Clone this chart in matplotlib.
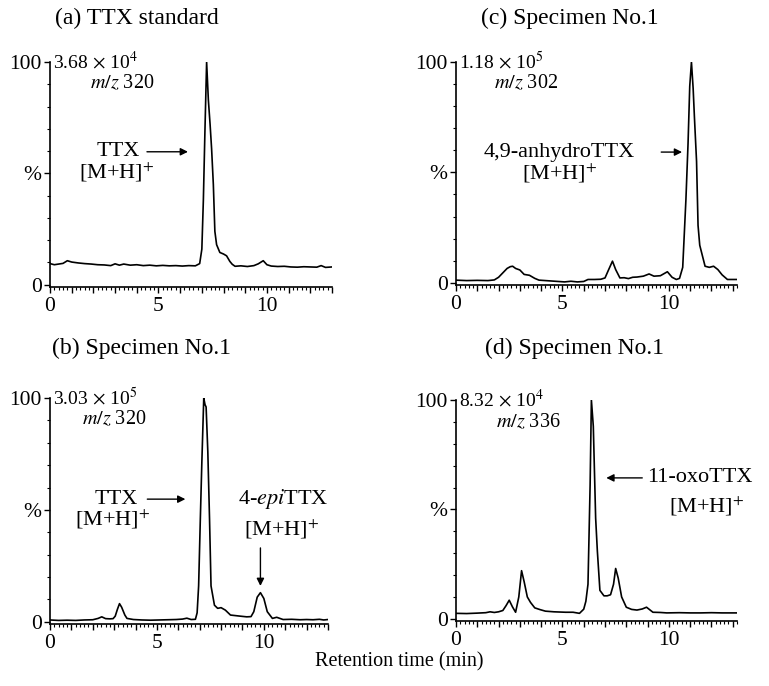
import matplotlib
matplotlib.use('Agg')
import matplotlib.pyplot as plt
from matplotlib.ticker import MultipleLocator, FixedLocator, FuncFormatter

plt.rcParams['font.family'] = ['Liberation Serif', 'DejaVu Serif']
plt.rcParams['mathtext.fontset'] = 'stix'

# (a) TTX standard, m/z 320
A_T = [0, 0.2, 0.4, 0.6, 0.8, 1.0, 1.3, 1.6, 1.9, 2.2,
       2.5, 2.8, 3.0, 3.2, 3.4, 3.7, 4.0, 4.3, 4.6, 4.9,
       5.2, 5.5, 5.8, 6.1, 6.4, 6.7, 6.9, 7.0, 7.07, 7.14,
       7.22, 7.30, 7.38, 7.45, 7.53, 7.60, 7.68, 7.83, 8.0, 8.14,
       8.29, 8.4, 8.53, 8.8, 9.1, 9.4, 9.6, 9.83, 10.0, 10.2,
       10.5, 10.8, 11.1, 11.4, 11.7, 12.0, 12.3, 12.5, 12.7, 13.0]
A_Y = [9.5, 9.0, 9.3, 9.6, 10.8, 10.2, 9.8, 9.5, 9.3, 9.0,
       8.9, 8.6, 9.4, 8.8, 9.3, 8.8, 9.0, 8.6, 8.8, 8.5,
       8.7, 8.5, 8.6, 8.4, 8.6, 8.5, 9.5, 16, 38, 68,
       100, 83, 72, 61, 45, 24, 18, 14.5, 13.8, 13,
       10.5, 9.2, 8.3, 8.5, 8.2, 8.6, 9.4, 10.8, 9.0, 8.4,
       8.2, 8.3, 8.0, 7.9, 8.1, 8.0, 7.9, 8.6, 7.8, 8.0]

# (b) specimen, m/z 320
B_T = [0, 0.4, 0.8, 1.2, 1.6, 2.0, 2.25, 2.42, 2.6, 2.8,
       2.95, 3.05, 3.15, 3.25, 3.35, 3.5, 3.6, 3.9, 4.3, 4.7,
       5.1, 5.5, 5.9, 6.2, 6.4, 6.6, 6.8, 6.88, 6.95, 7.03,
       7.1, 7.19, 7.25, 7.3, 7.38, 7.46, 7.53, 7.69, 7.84, 8.0,
       8.2, 8.44, 8.9, 9.2, 9.4, 9.53, 9.69, 9.84, 10.0, 10.16,
       10.4, 10.6, 10.9, 11.3, 11.7, 12.0, 12.3, 12.6, 12.8, 13.0]
B_Y = [0.8, 0.6, 0.7, 0.6, 0.8, 0.9, 1.5, 2.2, 1.4, 1.3,
       1.4, 2.5, 5.5, 8.1, 6.5, 3.0, 1.5, 1.0, 0.8, 0.7,
       0.8, 0.9, 1.0, 1.2, 1.6, 1.0, 1.1, 4.0, 16, 46,
       71, 100, 97, 96, 76, 46, 16, 7.4, 6.0, 6.3,
       5.2, 3.0, 2.5, 2.2, 2.3, 4.5, 11, 13, 10.4, 4.5,
       1.5, 2.0, 1.0, 1.1, 0.9, 1.0, 0.9, 1.1, 0.8, 1.0]

# (c) specimen, m/z 302
C_T = [0, 0.5, 1.0, 1.5, 1.8, 2.0, 2.2, 2.4, 2.55, 2.66,
       2.8, 3.0, 3.2, 3.45, 3.7, 3.9, 4.2, 4.5, 4.8, 5.1,
       5.4, 5.7, 6.0, 6.2, 6.5, 6.8, 7.0, 7.15, 7.35, 7.5,
       7.7, 7.9, 8.1, 8.3, 8.5, 8.8, 9.07, 9.3, 9.6, 9.93,
       10.15, 10.35, 10.5, 10.65, 10.8, 10.9, 10.98, 11.06, 11.14, 11.2,
       11.3, 11.37, 11.45, 11.7, 11.9, 12.1, 12.3, 12.5, 12.75, 13.2]
C_Y = [1.2, 1.0, 1.1, 1.0, 1.3, 2.5, 4.5, 6.5, 7.3, 7.5,
       6.5, 5.8, 3.8, 3.4, 2.0, 1.2, 1.0, 0.8, 0.6, 0.4,
       0.7, 0.4, 0.6, 1.5, 1.5, 1.6, 2.2, 5.5, 9.8, 6.0,
       2.2, 2.3, 1.9, 2.5, 2.6, 3.0, 4.0, 3.0, 3.2, 5.0,
       2.5, 1.5, 2.0, 7.0, 37.6, 63, 89, 100, 88, 75,
       55, 26, 17, 7.5, 7.0, 7.5, 6.0, 3.6, 1.5, 1.5]

# (d) specimen, m/z 336
D_T = [0, 0.5, 1.0, 1.4, 1.6, 1.8, 2.0, 2.2, 2.35, 2.5,
       2.65, 2.8, 2.95, 3.08, 3.2, 3.35, 3.5, 3.7, 3.95, 4.2,
       4.6, 5.15, 5.5, 5.8, 6.0, 6.1, 6.2, 6.3, 6.36, 6.45,
       6.56, 6.64, 6.76, 6.95, 7.1, 7.26, 7.4, 7.5, 7.62, 7.78,
       8.0, 8.25, 8.5, 8.75, 8.95, 9.25, 9.6, 9.9, 10.5, 11.0,
       11.5, 12.0, 12.5, 13.2]
D_Y = [2.5, 2.4, 2.6, 2.8, 3.2, 2.9, 3.2, 3.8, 6.0, 8.5,
       5.5, 3.0, 10, 22, 17, 10, 7.5, 5.0, 4.2, 3.5,
       3.2, 3.0, 3.0, 2.5, 4.4, 8, 15.8, 61, 100, 88,
       46, 31, 13, 10.5, 10.5, 11, 15.8, 23, 18.6, 10,
       5.3, 4.3, 4.0, 4.5, 5.3, 3.0, 2.9, 2.7, 2.8, 2.7,
       2.7, 2.8, 2.7, 2.7]

TITLES = ['(a) TTX standard', '(b) Specimen No.1',
          '(c) Specimen No.1', '(d) Specimen No.1']
SCALES = [r'3.68 $\times$ 10$^{4}$', r'3.03 $\times$ 10$^{5}$',
          r'1.18 $\times$ 10$^{5}$', r'8.32 $\times$ 10$^{4}$']
MZ = [r'$m/z$ 320', r'$m/z$ 320', r'$m/z$ 302', r'$m/z$ 336']
XMAX = [13.0, 13.0, 13.2, 13.2]

W, H = 769, 686
fig = plt.figure(figsize=(W / 100, H / 100), dpi=100)


def px_axes(left, top, right, bottom):
    return fig.add_axes([left / W, 1 - bottom / H,
                         (right - left) / W, (bottom - top) / H])


def style(ax, xmax):
    ax.set_xlim(0, xmax)
    ax.set_ylim(-1, 100)
    for s in ['top', 'right']:
        ax.spines[s].set_visible(False)
    for s in ['left', 'bottom']:
        ax.spines[s].set_linewidth(1.2)
    ax.xaxis.set_major_locator(MultipleLocator(1))
    ax.xaxis.set_minor_locator(MultipleLocator(0.2))
    ax.xaxis.set_major_formatter(
        FuncFormatter(lambda v, p: '%d' % v if int(round(v)) % 5 == 0 else ''))
    ax.yaxis.set_major_locator(FixedLocator([0, 50, 100]))
    ax.yaxis.set_minor_locator(MultipleLocator(10))
    ax.set_yticklabels(['0', '%', '100'])
    ax.tick_params(which='major', direction='out', length=4, width=1,
                   labelsize=15.5, pad=2)
    ax.tick_params(which='minor', direction='out', length=2.5, width=0.8)
    ax.tick_params(axis='x', which='major', pad=3)


def arrow(ax, x0, y0, x1, y1):
    ax.annotate('', xy=(x1, y1), xytext=(x0, y0),
                arrowprops=dict(arrowstyle='-|>', lw=1, color='black',
                                mutation_scale=11, shrinkA=0, shrinkB=0))


boxes = [(50, 62, 332, 287), (50, 398, 328, 624),
         (456, 62, 737, 285), (456, 400, 737, 621)]
data = [(A_T, A_Y), (B_T, B_Y), (C_T, C_Y), (D_T, D_Y)]
axes = []
for i in range(4):
    ax = px_axes(*boxes[i])
    ax.plot(data[i][0], data[i][1], color='black', lw=1.2)
    style(ax, XMAX[i])
    ax.text(0.15, 100, SCALES[i], fontsize=14, ha='left', va='center')
    axes.append(ax)

fs = 16
# (a)
ax = axes[0]
ax.text(1.85, 90.4, MZ[0], fontsize=14.5, va='center')
ax.text(4.15, 59.7, 'TTX', fontsize=fs, ha='right', va='center')
arrow(ax, 4.47, 59.7, 6.36, 59.7)
ax.text(1.35, 50.3, r'[M+H]$^{+}$', fontsize=fs, va='center')

# (b)
ax = axes[1]
ax.text(1.5, 90.4, MZ[1], fontsize=14.5, va='center')
ax.text(4.13, 54.8, 'TTX', fontsize=fs, ha='right', va='center')
arrow(ax, 4.55, 54.8, 6.33, 54.8)
ax.text(1.15, 45.9, r'[M+H]$^{+}$', fontsize=fs, va='center')
ax.text(8.8, 54.8, r'4-$\mathit{epi}$TTX', fontsize=fs, va='center')
ax.text(9.05, 41.5, r'[M+H]$^{+}$', fontsize=fs, va='center')
arrow(ax, 9.84, 33, 9.84, 16)

# (c)
ax = axes[2]
ax.text(1.8, 90.3, MZ[2], fontsize=14.5, va='center')
ax.text(1.3, 59.2, '4,9-anhydroTTX', fontsize=fs, va='center')
arrow(ax, 9.64, 59.2, 10.62, 59.2)
ax.text(3.1, 49.8, r'[M+H]$^{+}$', fontsize=fs, va='center')

# (d)
ax = axes[3]
ax.text(1.9, 89.6, MZ[3], fontsize=14.5, va='center')
arrow(ax, 8.75, 64.4, 7.06, 64.4)
ax.text(8.98, 64.4, '11-oxoTTX', fontsize=fs, va='center')
ax.text(10.0, 51.3, r'[M+H]$^{+}$', fontsize=fs, va='center')

# panel titles
fig.text(55 / W, 1 - 18 / H, TITLES[0], fontsize=17, va='center')
fig.text(52 / W, 1 - 348 / H, TITLES[1], fontsize=17, va='center')
fig.text(481 / W, 1 - 18 / H, TITLES[2], fontsize=17, va='center')
fig.text(485 / W, 1 - 348 / H, TITLES[3], fontsize=17, va='center')

fig.text(399 / W, 1 - 662 / H, 'Retention time (min)', fontsize=14.5,
         ha='center', va='center')

fig.savefig('out.png', dpi=100)
